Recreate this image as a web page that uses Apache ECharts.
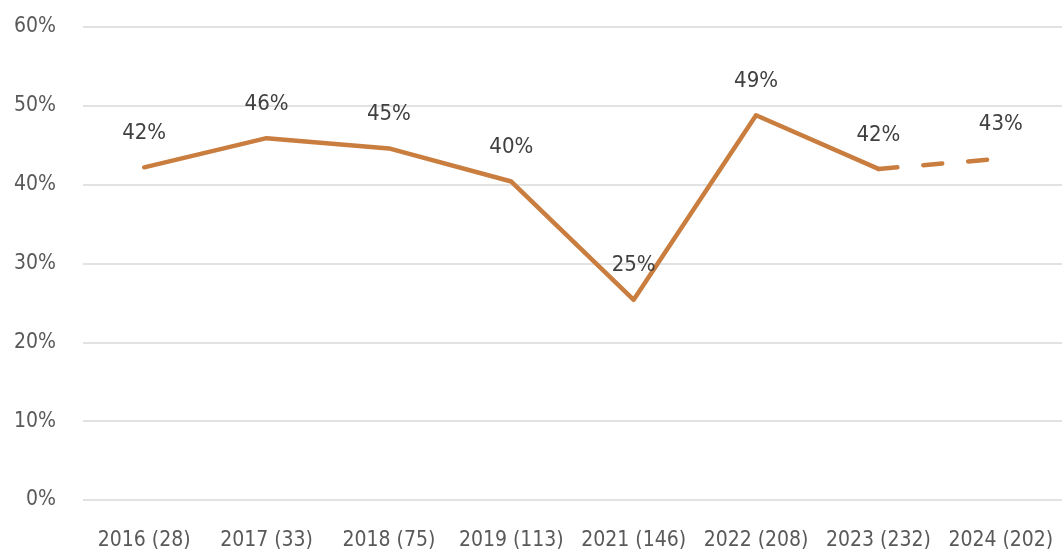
<!DOCTYPE html>
<html>
<head>
<meta charset="utf-8">
<script src="https://cdn.jsdelivr.net/npm/echarts@6/dist/echarts.min.js"></script>
<style>
html,body{margin:0;padding:0;background:#fff;}
#main{width:1062px;height:553px;}
</style>
</head>
<body>
<div id="main"></div>
<script>
var categories=['2016 (28)','2017 (33)','2018 (75)','2019 (113)','2021 (146)','2022 (208)','2023 (232)','2024 (202)'];
var actual=[42.2,45.9,44.6,40.4,25.4,48.8,42.0,null];
var projected=[null,null,null,null,null,null,42.0,43.3];
var yTicks=[0,10,20,30,40,50,60];

var font='"DejaVu Sans Condensed","Liberation Sans Narrow",sans-serif';
var lineColor='#C97D3F';

var myChart=echarts.init(document.getElementById('main'));
var option={
	animation:false,
	grid:{left:83,right:0,top:27,bottom:53},
	xAxis:{
		type:'category',
		data:categories,
		axisLine:{show:false},
		axisTick:{show:false},
		axisLabel:{color:'#595959',fontSize:21,fontFamily:font,margin:30,interval:0}
	},
	yAxis:{
		type:'value',
		min:yTicks[0],
		max:yTicks[yTicks.length-1],
		interval:10,
		axisLine:{show:false},
		axisTick:{show:false},
		axisLabel:{color:'#595959',fontSize:21,fontFamily:font,margin:27,formatter:'{value}%'},
		splitLine:{lineStyle:{color:'#d9d9d9',width:1.5}}
	},
	series:[{
		name:'actual',
		type:'line',
		data:actual,
		symbol:'circle',
		symbolSize:2,
		showSymbol:true,
		itemStyle:{color:'rgba(0,0,0,0)',borderWidth:0},
		lineStyle:{color:lineColor,width:4.5,cap:'round',join:'round'},
		label:{
			show:true,position:'top',distance:22,
			color:'#404040',fontSize:22,fontFamily:font,
			formatter:function(p){return Math.round(p.value)+'%';}
		}
	},{
		name:'projected',
		type:'line',
		data:projected,
		symbol:'circle',
		symbolSize:2,
		showSymbol:true,
		itemStyle:{color:'rgba(0,0,0,0)',borderWidth:0},
		lineStyle:{color:lineColor,width:4.5,type:[19,26],cap:'round'},
		label:{
			show:true,position:'top',distance:22,
			color:'#404040',fontSize:22,fontFamily:font,
			formatter:function(p){return p.dataIndex==7?Math.round(p.value)+'%':'';}
		}
	}]
};
myChart.setOption(option);
</script>
</body>
</html>
